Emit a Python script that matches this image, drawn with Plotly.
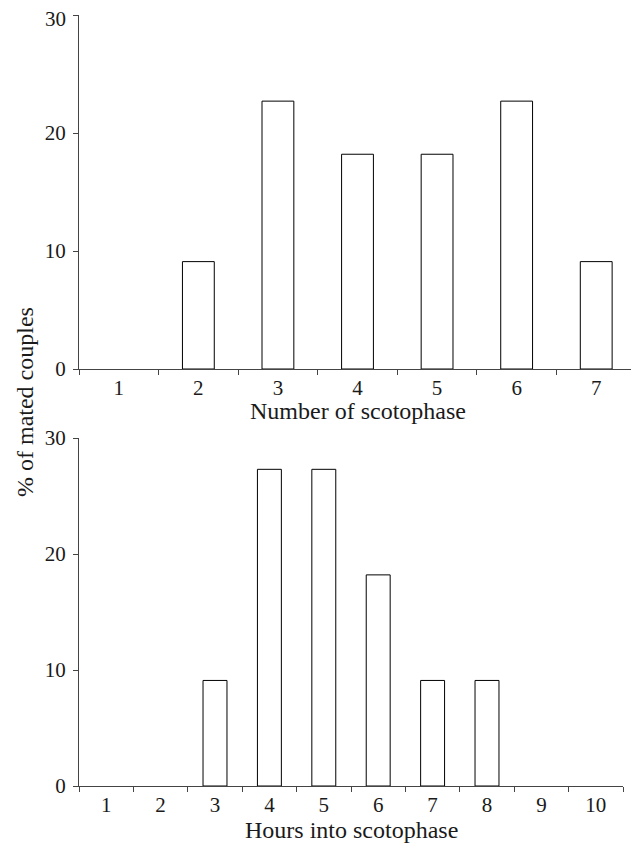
import plotly.graph_objects as go

top_categories = ["1", "2", "3", "4", "5", "6", "7"]
top_values = [0, 9.1, 22.7, 18.2, 18.2, 22.7, 9.1]
bottom_categories = ["1", "2", "3", "4", "5", "6", "7", "8", "9", "10"]
bottom_values = [0, 0, 9.1, 27.3, 27.3, 18.2, 9.1, 9.1, 0, 0]
y_ticks = [0, 10, 20, 30]
top_y_ticktext = ["0", "10", "20", ""]  # top "30" drawn as a nudged label below
bottom_y_ticktext = ["0", "10", "20", "30"]

OFF = 8  # browser body margin
W, H = 639 - OFF, 846 - OFF
FONT = "Liberation Serif"
TXT = "#1a1a1a"


def outline_widths(values):
    # empty categories have no visible bar outline
    return [1 if v > 0 else 0 for v in values]


fig = go.Figure()
fig.add_trace(go.Bar(x=top_categories, y=top_values, xaxis="x", yaxis="y",
                     marker=dict(color="white",
                                 line=dict(color="black", width=outline_widths(top_values))),
                     width=0.4, showlegend=False))
fig.add_trace(go.Bar(x=bottom_categories, y=bottom_values, xaxis="x2", yaxis="y2",
                     marker=dict(color="white",
                                 line=dict(color="black", width=outline_widths(bottom_values))),
                     width=0.44, showlegend=False))


def px_x(v):
    return (v - OFF) / W


def px_y(v):
    return 1 - (v - OFF) / H


axis_common = dict(showgrid=False, zeroline=False, showline=True, linecolor="#444",
                   linewidth=1, ticks="outside", ticklen=5, tickcolor="#444",
                   automargin=False,
                   tickfont=dict(family=FONT, size=21, color=TXT))

fig.update_layout(
    width=W, height=H, margin=dict(l=0, r=0, t=0, b=0),
    plot_bgcolor="white", paper_bgcolor="white",
    xaxis=dict(domain=[px_x(79), px_x(636)], anchor="y", type="category",
               tickson="boundaries", range=[-0.5, 6.5], **axis_common),
    yaxis=dict(domain=[px_y(369), px_y(15)], anchor="x", range=[0, 30],
               tickvals=y_ticks, ticktext=top_y_ticktext, ticklabelstandoff=3,
               **axis_common),
    xaxis2=dict(domain=[px_x(79), px_x(623)], anchor="y2", type="category",
                tickson="boundaries", range=[-0.5, 9.5], **axis_common),
    yaxis2=dict(domain=[px_y(786), px_y(438)], anchor="x2", range=[0, 30],
                tickvals=y_ticks, ticktext=bottom_y_ticktext, ticklabelstandoff=3,
                **axis_common),
    annotations=[
        dict(text=str(y_ticks[-1]), x=px_x(68), y=y_ticks[-1], xref="paper", yref="y",
             xanchor="right", yanchor="middle", yshift=-4, showarrow=False,
             font=dict(family=FONT, size=21, color=TXT)),
        dict(text="Number of scotophase", x=px_x((79 + 636) / 2), y=px_y(411),
             xref="paper", yref="paper", showarrow=False,
             font=dict(family=FONT, size=24, color=TXT), yanchor="middle"),
        dict(text="Hours into scotophase", x=px_x((79 + 623) / 2), y=px_y(830),
             xref="paper", yref="paper", showarrow=False,
             font=dict(family=FONT, size=24, color=TXT), yanchor="middle"),
        dict(text="% of mated couples", x=px_x(25), y=px_y(402),
             xref="paper", yref="paper", showarrow=False, textangle=-90,
             font=dict(family=FONT, size=24, color=TXT),
             xanchor="center", yanchor="middle"),
    ],
)

fig.write_html("out.html")
